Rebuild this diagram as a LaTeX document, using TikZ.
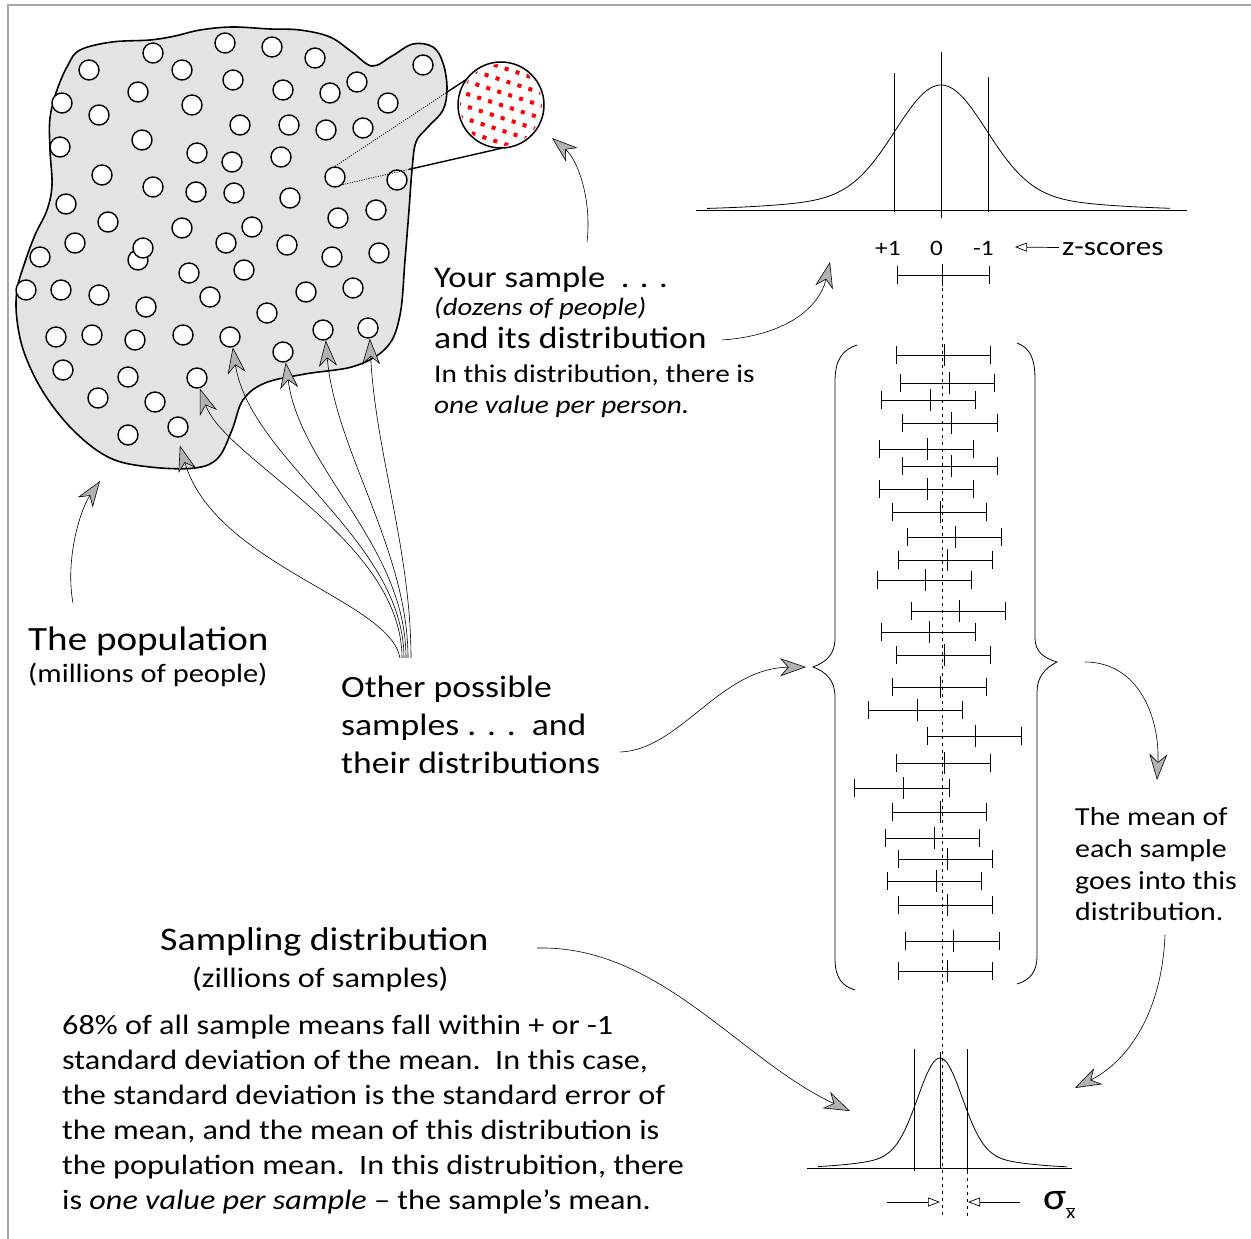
\documentclass[tikz,border=0pt]{standalone}
\usepackage{fontspec}
\setmainfont{Carlito}[FakeStretch=1.15]
\usetikzlibrary{arrows.meta,calc}
\newcommand{\fsz}[1]{\fontsize{#1}{#1}\selectfont}
\begin{document}
\begin{tikzpicture}[x=1pt,y=-1pt,
  blob/.style={draw, line width=1.6pt, fill=black!11},
  person/.style={circle, draw, line width=1.4pt, fill=white, minimum size=20pt, inner sep=0pt},
  garrow/.style={line width=0.6pt, -{Stealth[length=26pt,width=18pt,inset=8pt,fill=gray!60]}},
  oarrow/.style={line width=0.7pt, -{Triangle[open,length=12pt,width=9pt]}},
  ebar/.style={line width=1pt},
  thinln/.style={line width=0.8pt},
  txt/.style={anchor=base west, inner sep=0pt}]
\useasboundingbox (0,0) rectangle (1251,1239);
\fill[white] (0,0) rectangle (1251,1239);
\draw[black!35, line width=1.6pt] (8,1239) -- (8,5) -- (1251,5);

% population blob
\draw[blob] plot[smooth cycle, tension=0.6] coordinates {
 (80,50) (112,42) (150,40) (175,36) (200,30) (232,27) (270,29) (300,30) (330,37)
 (352,52) (372,66) (392,56) (413,44) (433,47) (443,63) (447,88) (443,110) (428,127)
 (416,142) (412,170) (409,210) (405,260) (400,315) (387,347) (355,366) (305,374)
 (265,383) (243,400) (232,430) (218,458) (195,468) (150,467) (110,458) (75,432)
 (45,395) (25,355) (17,320) (17,290) (25,262) (35,235) (47,210) (52,185) (50,150)
 (50,118) (57,90) (68,65)};

% people
\foreach \px/\py [count=\i] in {
 89/70,153/53,225/43,272/47,315/58,423/65,182/70,233/80,283/90,330/93,357/82,388/103,
 138/92,192/105,62/103,99/115,240/125,289/125,326/130,363/128,60/147,142/140,197/153,
 232/162,281/157,397/180,102/175,153/187,196/192,234/193,290/198,66/204,108/222,
 182/228,252/227,338/218,376/210,75/243,138/260,143/248,226/243,287/245,332/257,
 379/253,40/257,189/273,244/270,26/290,61/290,99/295,146/307,210/297,306/292,
 353/288,267/313,56/337,92/335,135/340,183/335,63/370,128/377,98/398,155/402,128/435}
 \node[person] (p\i) at (\px,\py) {};
\node[person] (ys) at (335,177) {};
\node[person] (ta) at (178,427) {};
\node[person] (tb) at (197,378) {};
\node[person] (tc) at (230,337) {};
\node[person] (td) at (283,352) {};
\node[person] (te) at (323,330) {};
\node[person] (tf) at (368,328) {};

% magnifier
\node[circle, minimum size=86pt, inner sep=0pt] (mag) at (501,105) {};
\coordinate (u1) at ($(ys.90)!0.848!(mag.144)$);
\coordinate (l1) at ($(ys.-45)!0.414!(mag.-89)$);
\draw[line width=0.7pt, dash pattern=on 1.2pt off 1.2pt] (ys.90) -- (u1);
\draw[line width=0.7pt, dash pattern=on 1.2pt off 1.2pt] (ys.-45) -- (l1);
\draw[line width=1.4pt] (u1) -- (mag.144);
\draw[line width=1.4pt] (l1) -- (mag.-89);
\fill[white] (mag.center) circle (43);
\begin{scope}
 \clip (mag.center) circle (41);
 \begin{scope}[shift={(501,105)}, rotate=-18]
  \foreach \i in {-5,...,5}
   \foreach \j in {-5,...,5}
    \fill[red] ({\i*11.5 + mod(\j+10,2)*5.7 - 2},{\j*12 - 2}) rectangle ++(4,4);
 \end{scope}
\end{scope}
\draw[line width=1.5pt] (mag.center) circle (43);

% top distribution
\draw[thinln] (696,210) -- (1187,210);
\draw[thinln] (941,52) -- (941,218);
\draw[thinln] (894,73) -- (894,212);
\draw[thinln] (988,77) -- (988,212);
\draw[thinln] plot[domain=-234:229, samples=140]
  ({941+\x},{210-125*(0.88*exp(-0.5*(\x/45)*(\x/45))+0.12*exp(-0.5*(\x/110)*(\x/110)))});

\node[txt] (zp) at (875,255) {\fsz{22}+1};
\node[txt] (z0) at (930,255) {\fsz{22}0};
\node[txt] (zm) at (973,255) {\fsz{22}-1};
\node[txt] (zs) at (1062,255) {\fsz{27}z-scores};
\coordinate (zt) at (1015,247);
\draw[oarrow] ([xshift=-3pt,yshift=1pt]zs.west) -- (zt);

% your sample error bar
\draw[ebar] (897,275) -- (989,275);
\draw[ebar] (897,266) -- (897,284);
\draw[ebar] (989,266) -- (989,284);
\draw[ebar] (942,264) -- (942,286);

% mean line
\draw[line width=0.7pt, dash pattern=on 3pt off 4pt] (942,288) -- (942,1217);

% brackets
\draw[thinln] (857,345) .. controls (842,350) and (835,360) .. (835,382) -- (835,638)
  .. controls (835,655) and (826,662) .. (813,667)
  .. controls (826,672) and (835,680) .. (835,697) -- (835,958)
  .. controls (835,978) and (842,986) .. (855,990);
\draw[thinln] (1017,343) .. controls (1030,348) and (1035,358) .. (1035,380) -- (1035,638)
  .. controls (1035,652) and (1044,658) .. (1057,662)
  .. controls (1045,668) and (1037,677) .. (1037,692) -- (1037,956)
  .. controls (1037,972) and (1030,980) .. (1017,984);

% other samples
\foreach \y/\l/\c/\r in {
 355/896/944/990, 383/900/949/994, 400/881/930/975, 423/902/951/997,
 449/879/927/973, 466/902/951/997, 489/879/927/973, 512/892/940/986,
 537/907/955/1001, 560/898/947/992, 580/877/925/971, 611/911/959/1005,
 632/881/929/975, 655/896/944/990, 687/892/940/986, 710/868/917/962,
 736/927/975/1021, 763/896/944/990, 788/854/903/949, 812/892/940/986,
 838/885/934/979, 859/898/947/992, 881/887/936/981, 905/898/947/992,
 941/905/953/999, 971/898/947/992}
{
 \draw[ebar] (\l,\y) -- (\r,\y);
 \draw[ebar] (\l,\y-9) -- (\l,\y+9);
 \draw[ebar] (\r,\y-9) -- (\r,\y+9);
 \draw[ebar] (\c,\y-11) -- (\c,\y+11);
}

% sampling distribution
\draw[thinln] (807,1168) -- (1072,1168);
\draw[thinln] (940,1052) -- (940,1168);
\draw[thinln] (914,1049) -- (914,1171);
\draw[thinln] (967,1049) -- (967,1171);
\draw[thinln] plot[domain=-122:127, samples=140]
  ({940+\x},{1168-110*(0.88*exp(-0.5*(\x/22)*(\x/22))+0.12*exp(-0.5*(\x/58)*(\x/58)))});
\draw[line width=0.7pt, dash pattern=on 3pt off 4pt] (967,1171) -- (967,1217);
\coordinate (sl1) at (887,1202);
\coordinate (sl2) at (940,1202);
\coordinate (sr1) at (1020,1202);
\coordinate (sr2) at (968,1202);
\draw[oarrow] (sl1) -- (sl2);
\draw[oarrow] (sr1) -- (sr2);
\node[txt] (sig) at (1043,1209) {\fsz{38}σ\raisebox{-9pt}{\fsz{18}$\overline{\mbox{\fsz{18}x}}$}};

% texts
\node[txt] (t1) at (434,287) {\fsz{30}Your sample\ \ . . .};
\node[txt] (t2) at (434,315) {\fsz{25}\itshape (dozens of people)};
\node[txt] (t3) at (434,348) {\fsz{31}and its distribution};
\node[txt] (t4) at (434,382) {\fsz{25.5}In this distribution, there is};
\node[txt] (t5) at (434,413) {\fsz{25.5}\itshape one value per person.};

\node[txt] (pop1) at (28,650) {\fsz{34}The population};
\node[txt] (pop2) at (28,682) {\fsz{26.5}(millions of people)};

\node[txt] (o1) at (341,697) {\fsz{31}Other possible};
\node[txt] (o2) at (341,735) {\fsz{31}samples . . .\ \ and};
\node[txt] (o3) at (341,773) {\fsz{31}their distributions};

\node[txt] (m1) at (1075,825) {\fsz{26}The mean of};
\node[txt] (m2) at (1075,857) {\fsz{26}each sample};
\node[txt] (m3) at (1075,889) {\fsz{26}goes into this};
\node[txt] (m4) at (1075,920) {\fsz{26}distribution.};

\node[txt] (s1) at (160,950) {\fsz{33}Sampling distribution};
\node[txt] (s2) at (192,987) {\fsz{28}(zillions of samples)};

\node[txt] (q1) at (62,1034) {\fsz{28}68\% of all sample means fall within + or -1};
\node[txt] (q2) at (62,1069) {\fsz{28}standard deviation of the mean.\ \ In this case,};
\node[txt] (q3) at (62,1104) {\fsz{28}the standard deviation is the standard error of};
\node[txt] (q4) at (62,1139) {\fsz{28}the mean, and the mean of this distribution is};
\node[txt] (q5) at (62,1174) {\fsz{28}the population mean.\ \ In this distrubition, there};
\node[txt] (q6) at (62,1209) {\fsz{28}is \textit{one value per sample} – the sample’s mean.};

% arrows
\coordinate (popS) at (73,603);  \coordinate (popT) at (100,481);
\coordinate (ysS) at (587,242);  \coordinate (ysT) at (552,138);
\coordinate (aiS) at (722,340);  \coordinate (aiT) at (830,262);
\coordinate (opS) at (620,752);  \coordinate (opT) at (806,667);
\coordinate (brS) at (1085,662); \coordinate (brT) at (1157,780);
\coordinate (mnS) at (1165,935); \coordinate (mnT) at (1075,1088);
\coordinate (sdS) at (537,948);  \coordinate (sdT) at (850,1111);
\draw[garrow] (popS) .. controls (65,560) and (80,510) .. (popT);
\draw[garrow] (ysS) .. controls (592,200) and (578,160) .. (ysT);
\draw[garrow] (aiS) .. controls (790,335) and (820,305) .. (aiT);
\draw[garrow] (opS) .. controls (680,750) and (720,668) .. (opT);
\draw[garrow] (brS) .. controls (1140,662) and (1160,720) .. (brT);
\draw[garrow] (mnS) .. controls (1162,1010) and (1130,1060) .. (mnT);
\draw[garrow] (sdS) .. controls (660,945) and (740,1060) .. (sdT);

\coordinate (ca) at (400,658); \coordinate (cb) at (402,658);
\coordinate (cc) at (404,658); \coordinate (cd) at (406,658);
\coordinate (ce) at (408,658); \coordinate (cf) at (411,658);
\draw[garrow] (ca) .. controls (390,600) and (215,565) .. ([yshift=-8pt]ta.-80);
\draw[garrow] (cb) .. controls (402,540) and (225,460) .. (tb.-75);
\draw[garrow] (cc) .. controls (404,540) and (250,460) .. (tc.-75);
\draw[garrow] (cd) .. controls (406,545) and (300,470) .. (td.-75);
\draw[garrow] (ce) .. controls (408,550) and (335,450) .. (te.-75);
\draw[garrow] (cf) .. controls (411,550) and (375,450) .. (tf.-80);
\end{tikzpicture}
\end{document}
